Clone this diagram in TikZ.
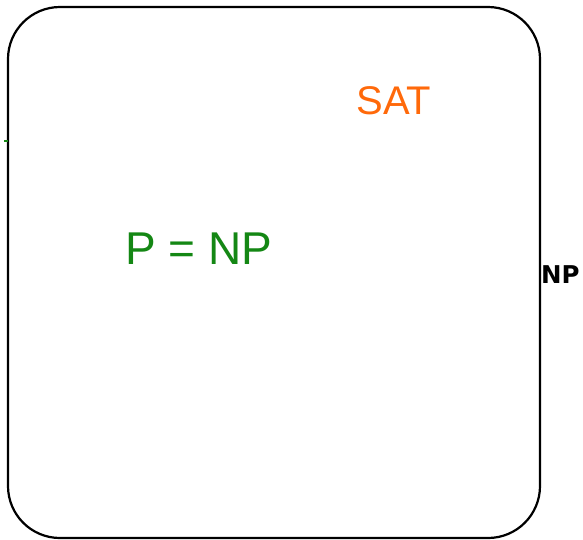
\documentclass[tikz,border=0pt]{standalone}
\usepackage{fontspec}
\setmainfont{Liberation Sans}
\newfontfamily\labelfont{DejaVu Sans}
\definecolor{penGreen}{RGB}{20,135,20}
\definecolor{penOrange}{RGB}{255,105,10}
\begin{document}
\begin{tikzpicture}[x=1pt,y=-1pt]
  \useasboundingbox (0,0) rectangle (583,539);
  % class box NP
  \draw[line width=2.2pt,rounded corners=52pt] (8,7) rectangle (540,538);
  \node[anchor=west,inner sep=1pt,font=\labelfont\bfseries\fontsize{24.5}{26}\selectfont] (np) at (540,275) {NP};
  % small pen mark on the left edge
  \draw[penGreen,line width=2.5pt] (4,141) -- (8,141);
  % handwritten SAT
  \node[text=penOrange,font=\fontsize{40}{42}\selectfont] (sat) at (394,101) {SAT};
  % handwritten P = NP
  \node[text=penGreen,font=\fontsize{46}{48}\selectfont] (pnp) at (199,249) {P = NP};
\end{tikzpicture}
\end{document}
